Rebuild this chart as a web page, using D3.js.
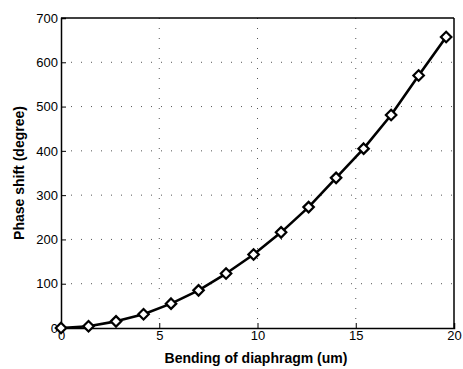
<!DOCTYPE html>
<html>
<head>
<meta charset="utf-8">
<script src="https://cdn.jsdelivr.net/npm/d3@7"></script>
<style>
body { margin: 0; background: #fff; }
text { font-family: "Liberation Sans", Arial, sans-serif; }
</style>
</head>
<body>
<div id="chart"></div>
<script>
// bending of diaphragm (um)
var bending = [0, 1.4, 2.8, 4.2, 5.6, 7, 8.4, 9.8, 11.2, 12.6, 14, 15.4, 16.8, 18.2, 19.6];
// phase shift (degree)
var phase = [0, 4, 15, 31, 55, 85, 123, 166, 216, 273, 339, 405, 481, 570, 657];
var xTicks = [0, 5, 10, 15, 20];
var yTicks = [0, 100, 200, 300, 400, 500, 600, 700];

var width = 463, height = 369;
var margin = {top: 18, right: 9, bottom: 41, left: 61};
var w = width - margin.left - margin.right;
var h = height - margin.top - margin.bottom;

var svg = d3.select('#chart').append('svg')
    .attr('width', width)
    .attr('height', height);

var g = svg.append('g').attr('transform', 'translate(' + margin.left + ',' + margin.top + ')');

var x = d3.scaleLinear().domain([0, 20]).range([0, w]);
var y = d3.scaleLinear().domain([0, 700]).range([h, 0]);

// dotted grid
g.append('g').selectAll('line.gx')
    .data(xTicks.slice(1, -1))
    .enter().append('line')
    .attr('x1', function (d) { return x(d); })
    .attr('x2', function (d) { return x(d); })
    .attr('y1', 0).attr('y2', h)
    .attr('stroke', '#555')
    .attr('stroke-width', 1)
    .attr('stroke-dasharray', '1,9');
g.append('g').selectAll('line.gy')
    .data(yTicks.slice(1, -1))
    .enter().append('line')
    .attr('y1', function (d) { return y(d); })
    .attr('y2', function (d) { return y(d); })
    .attr('x1', 0).attr('x2', w)
    .attr('stroke', '#555')
    .attr('stroke-width', 1)
    .attr('stroke-dasharray', '1,9');

// axes
var xAxis = d3.axisBottom(x).tickValues(xTicks).tickSize(-5).tickPadding(3);
var yAxis = d3.axisLeft(y).tickValues(yTicks).tickSize(-5).tickPadding(3);

var gx = g.append('g').attr('transform', 'translate(0,' + h + ')').call(xAxis);
var gy = g.append('g').call(yAxis);
[gx, gy].forEach(function (a) {
    a.select('.domain').attr('stroke', '#000').attr('stroke-width', 1.5);
    a.selectAll('.tick line').attr('stroke', '#000');
    a.selectAll('.tick text')
        .attr('fill', '#000')
        .style('font-size', '13px')
        .style('font-family', '"Liberation Sans", Arial, sans-serif');
});

// top and right border
g.append('line').attr('x1', 0).attr('x2', w).attr('y1', 0).attr('y2', 0)
    .attr('stroke', '#000').attr('stroke-width', 1.5);
g.append('line').attr('x1', w).attr('x2', w).attr('y1', 0).attr('y2', h)
    .attr('stroke', '#000').attr('stroke-width', 1.5);

// line
var line = d3.line()
    .x(function (d, i) { return x(bending[i]); })
    .y(function (d) { return y(d); });

g.append('path')
    .datum(phase)
    .attr('fill', 'none')
    .attr('stroke', '#000')
    .attr('stroke-width', 2.6)
    .attr('stroke-linejoin', 'round')
    .attr('d', line);

// diamond markers
var diamond = d3.symbol().type(d3.symbolDiamond2).size(70);
g.append('g').selectAll('path.m')
    .data(phase)
    .enter().append('path')
    .attr('d', diamond)
    .attr('transform', function (d, i) { return 'translate(' + x(bending[i]) + ',' + y(d) + ')'; })
    .attr('fill', '#fff')
    .attr('stroke', '#000')
    .attr('stroke-width', 2.2);

// axis labels
svg.append('text')
    .attr('x', 256)
    .attr('y', 363)
    .attr('text-anchor', 'middle')
    .style('font-size', '14px')
    .style('font-weight', 'bold')
    .text('Bending of diaphragm (um)');

svg.append('text')
    .attr('transform', 'translate(24,' + (margin.top + h / 2) + ') rotate(-90)')
    .attr('text-anchor', 'middle')
    .style('font-size', '14px')
    .style('font-weight', 'bold')
    .text('Phase shift (degree)');
</script>
</body>
</html>
